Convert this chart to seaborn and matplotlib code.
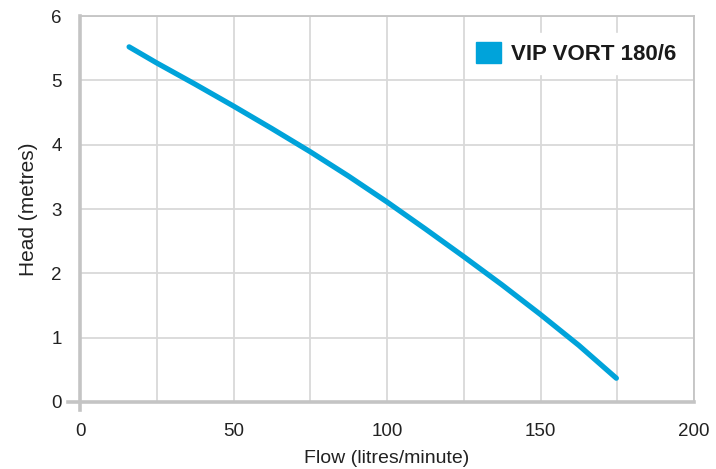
import pandas as pd
import seaborn as sns
import matplotlib.pyplot as plt
from matplotlib.patches import Patch

# pump curve
flow = [16.0, 25, 37.5, 50, 62.5, 75, 87.5, 100, 112.5, 125, 137.5, 150, 162.5, 174.7]
head = [5.52, 5.27, 4.94, 4.60, 4.25, 3.89, 3.51, 3.11, 2.69, 2.26, 1.82, 1.36, 0.88, 0.37]
series_name = "VIP VORT 180/6"
x_ticks = [0, 50, 100, 150, 200]
y_ticks = [0, 1, 2, 3, 4, 5, 6]

BLUE = "#00a3da"
GRID = "#d9d9d9"
AXIS = "#c4c4c4"
TEXT = "#222222"


def main():
    sns.set_style("white")
    plt.rcParams["font.family"] = ["Liberation Sans", "DejaVu Sans"]

    df = pd.DataFrame({"flow": flow, "head": head})

    fig = plt.figure(figsize=(7.16, 4.69), dpi=100)
    ax = fig.add_axes([80 / 716, 1 - 402 / 469, 614 / 716, 386 / 469])

    sns.lineplot(data=df, x="flow", y="head", color=BLUE, linewidth=3.8,
                 solid_capstyle="round", solid_joinstyle="round", ax=ax)

    ax.set_xlim(0, 200)
    ax.set_ylim(0, 6)
    ax.set_xticks(x_ticks)
    ax.set_yticks(y_ticks)
    ax.set_xticks(range(0, 201, 25), minor=True)

    ax.grid(True, which="both", color=GRID, linewidth=1.3)
    ax.set_axisbelow(True)

    for side in ["top", "right"]:
        ax.spines[side].set_color(AXIS)
        ax.spines[side].set_linewidth(1.3)
    for side in ["left", "bottom"]:
        ax.spines[side].set_color(AXIS)
        ax.spines[side].set_linewidth(2.6)
    ax.spines["left"].set_bounds(-0.13, 6)
    ax.spines["bottom"].set_bounds(-4, 200)

    ax.tick_params(axis="y", which="major", length=10, width=1.2, color=AXIS,
                   labelsize=13.5, labelcolor=TEXT, pad=3)
    ax.tick_params(axis="x", which="both", length=0, labelsize=13.5,
                   labelcolor=TEXT, pad=15)

    ax.set_xlabel("Flow (litres/minute)", fontsize=14, color=TEXT, labelpad=7)
    ax.set_ylabel("Head (metres)", fontsize=15, color=TEXT, labelpad=10)

    handle = Patch(facecolor=BLUE, edgecolor=BLUE)
    leg = ax.legend([handle], [series_name], loc="upper right",
                    bbox_to_anchor=(1.003, 0.985), frameon=True, facecolor="white",
                    edgecolor="white", framealpha=1, fancybox=False,
                    handlelength=1.1, handleheight=1.1, handletextpad=0.45,
                    prop={"weight": "bold", "size": 16}, borderpad=0.4)
    for t in leg.get_texts():
        t.set_color("#1a1a1a")

    plt.savefig("out.png", dpi=100)


if __name__ == "__main__":
    main()
